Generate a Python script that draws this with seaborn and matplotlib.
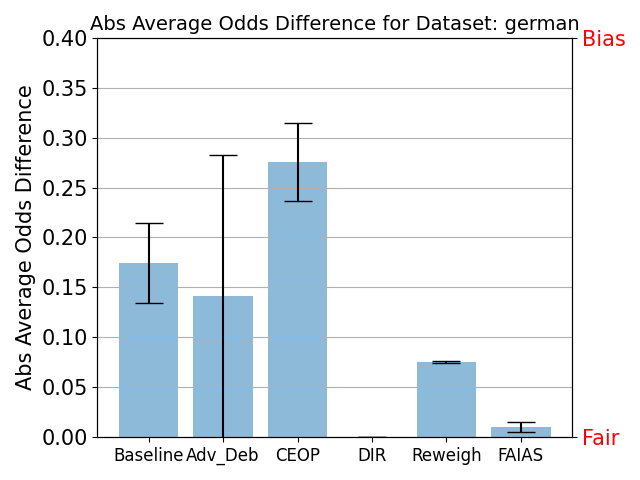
import matplotlib
matplotlib.use("Agg")
import matplotlib.pyplot as plt
import seaborn as sns
import pandas as pd

methods = ["Baseline", "Adv_Deb", "CEOP", "DIR", "Reweigh", "FAIAS"]
values = [0.174, 0.141, 0.276, 0.0, 0.075, 0.010]
errors = [0.040, 0.142, 0.039, 0.0, 0.001, 0.005]

df = pd.DataFrame({"method": methods, "value": values})

fig, ax = plt.subplots(figsize=(6.4, 4.8), dpi=100)
sns.barplot(data=df, x="method", y="value", color="#1f77b4", alpha=0.5,
            saturation=1, errorbar=None, width=0.8, ax=ax)
ax.errorbar(range(len(methods)), values, yerr=errors, fmt="none",
            ecolor="black", capsize=10, elinewidth=1.5, capthick=1)
ax.set_ylim(0, 0.4)
ax.set_yticks([i * 0.05 for i in range(9)])
ax.set_yticklabels([f"{i*0.05:.2f}" for i in range(9)], fontsize=15)
ax.tick_params(axis="x", labelsize=12)
ax.set_xlabel("")
ax.set_ylabel("Abs Average Odds Difference", fontsize=15)
ax.set_title("Abs Average Odds Difference for Dataset: german", fontsize=14)
ax.yaxis.grid(True, color="#b0b0b0", linewidth=0.8)
ax.set_xlim(-0.69, 5.69)

ax2 = ax.twinx()
ax2.set_ylim(0, 0.4)
ax2.set_yticks([0, 0.4])
ax2.set_yticklabels(["Fair", "Bias"], fontsize=15, color="red")

fig.subplots_adjust(left=0.152, right=0.894, bottom=0.0896, top=0.921)
fig.savefig("out.png", dpi=100)
